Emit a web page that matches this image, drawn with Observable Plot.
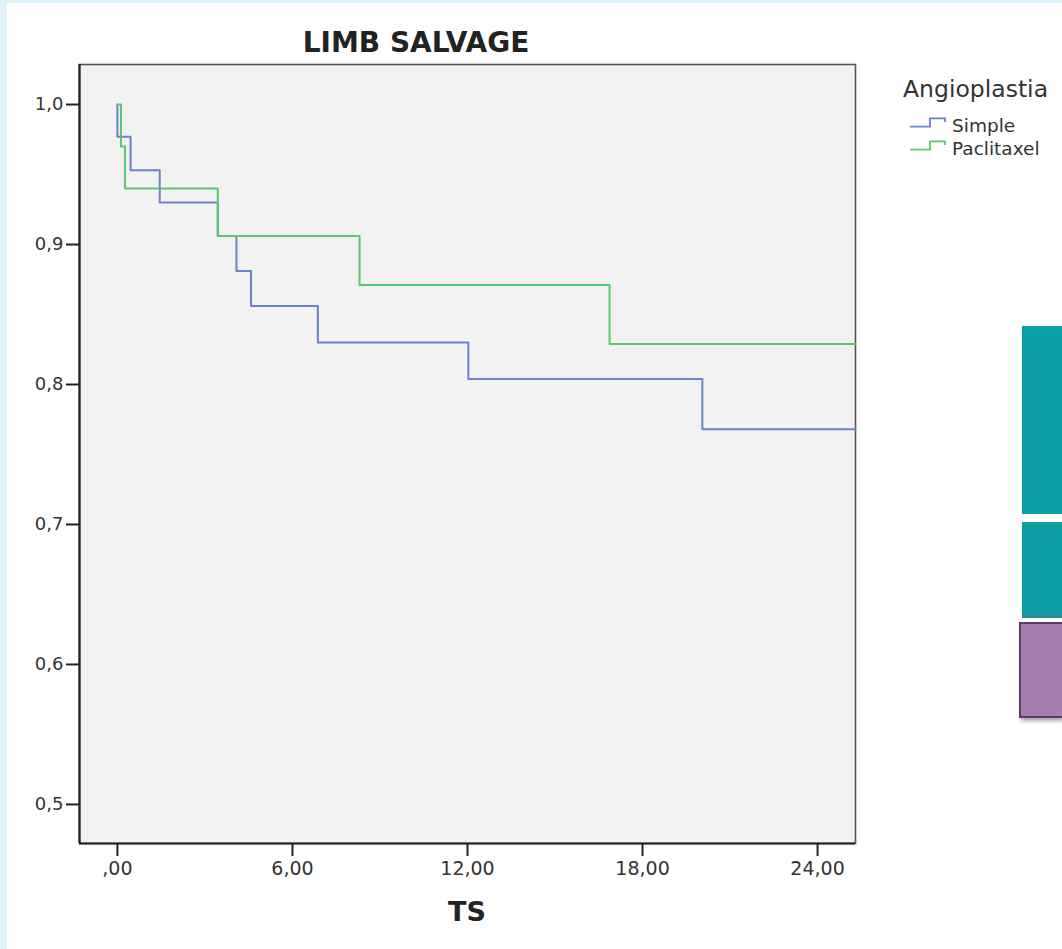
<!DOCTYPE html>
<html>
<head>
<meta charset="utf-8">
<script src="https://cdn.jsdelivr.net/npm/d3@7"></script>
<script src="https://cdn.jsdelivr.net/npm/@observablehq/plot@0.6"></script>
<style>
  html, body { margin:0; padding:0; }
  body { width:1062px; height:949px; background:#dcf3f9; position:relative; overflow:hidden; font-family:"DejaVu Sans", sans-serif; }
  #panel { position:absolute; left:7px; top:3px; right:0; bottom:0; background:#fff; }
  #chart { position:absolute; left:0; top:0; }
  .abs { position:absolute; white-space:nowrap; color:#222; }
  #title { left:0; width:832px; top:28px; text-align:center; font-weight:bold; font-size:28px; line-height:30px; }
  #xlabel { left:79px; width:776px; top:897px; text-align:center; font-weight:bold; font-size:27px; line-height:30px; }
  .lgttl { left:903px; top:75px; font-size:23.5px; line-height:28px; color:#333; }
  .lgitem { left:952px; font-size:18.5px; line-height:23px; color:#333; }
  .lgicon { position:absolute; left:908px; }
  .deco { position:absolute; }
</style>
</head>
<body>
<div id="panel"></div>
<div class="deco" style="left:1022px;top:326px;width:40px;height:188px;background:#0b9ea4;"></div>
<div class="deco" style="left:1022px;top:522px;width:40px;height:92px;background:#0b9ea4;"></div>
<div class="deco" style="left:1022px;top:614px;width:40px;height:4px;background:#2a8f98;"></div>
<div class="deco" style="left:1019px;top:622px;width:43px;height:96px;background:#a77db2;border:2px solid #5b3d64;border-right:none;box-sizing:border-box;box-shadow:2px 3px 4px rgba(0,0,0,0.35);"></div>
<div id="chart"></div>
<div id="title" class="abs"></div>
<div id="xlabel" class="abs"></div>
<div id="legend"></div>
<script>
// ---- data ----
const groups = ["Simple", "Paclitaxel"];
const groupColors = ["#6a82cc", "#58c96c"];
const simpleTime     = [0, 0,     0.45,  1.45,  3.44,  4.08,  4.58,  6.87,  12.03, 20.05, 25.3];
const simpleSurv     = [1, 0.977, 0.953, 0.930, 0.906, 0.881, 0.856, 0.830, 0.804, 0.768, 0.768];
const paclitaxelTime = [0, 0.12,  0.26,  3.44,  8.30,  16.87, 25.3];
const paclitaxelSurv = [1, 0.970, 0.940, 0.906, 0.871, 0.829, 0.829];
const xTicks = [0, 6, 12, 18, 24];
const xTickLabels = [",00", "6,00", "12,00", "18,00", "24,00"];
const yTicks = [0.5, 0.6, 0.7, 0.8, 0.9, 1.0];
const yTickLabels = ["0,5", "0,6", "0,7", "0,8", "0,9", "1,0"];
const xDomain = [-1.3, 25.3];
const yDomain = [0.4721, 1.0286];
const titleText = "LIMB SALVAGE";
const xLabelText = "TS";
const legendTitle = "Angioplastia";

const rows = [
  ...simpleTime.map((t, i) => ({group: groups[0], t, s: simpleSurv[i]})),
  ...paclitaxelTime.map((t, i) => ({group: groups[1], t, s: paclitaxelSurv[i]}))
];

const chart = Plot.plot({
  width: 1062,
  height: 949,
  marginLeft: 79,
  marginRight: 207,
  marginTop: 64,
  marginBottom: 106,
  style: {background: "transparent", fontFamily: "DejaVu Sans, sans-serif", color: "#333"},
  x: {domain: xDomain},
  y: {domain: yDomain},
  color: {domain: groups, range: groupColors},
  marks: [
    Plot.frame({fill: "#f2f2f2", stroke: "#555", strokeWidth: 1.6}),
    Plot.ruleX([xDomain[0]], {stroke: "#222", strokeWidth: 2.2}),
    Plot.ruleY([yDomain[0]], {stroke: "#222", strokeWidth: 2.2}),
    Plot.axisX({ticks: xTicks, tickFormat: d => xTickLabels[xTicks.indexOf(d)], tickSize: 13, tickPadding: 5, fontSize: 19, strokeWidth: 2, stroke: "#222", label: null}),
    Plot.axisY({ticks: yTicks, tickFormat: d => yTickLabels[yTicks.indexOf(d)], tickSize: 13, tickPadding: 3, fontSize: 18, strokeWidth: 2, stroke: "#222", label: null}),
    Plot.line(rows, {x: "t", y: "s", z: "group", stroke: "group", curve: "step-after", strokeWidth: 2})
  ]
});
document.getElementById("chart").appendChild(chart);
document.getElementById("title").textContent = titleText;
document.getElementById("xlabel").textContent = xLabelText;

const legend = document.getElementById("legend");
legend.innerHTML = `<div class="abs lgttl">${legendTitle}</div>` + groups.map((g, i) =>
  `<svg class="lgicon" style="top:${116 + 23 * i}px" width="40" height="14"><path d="M2,10.7 H22 V2.3 H37 V6" fill="none" stroke="${groupColors[i]}" stroke-width="1.8"/></svg>` +
  `<div class="abs lgitem" style="top:${114 + 23 * i}px">${g}</div>`
).join("");
</script>
</body>
</html>
